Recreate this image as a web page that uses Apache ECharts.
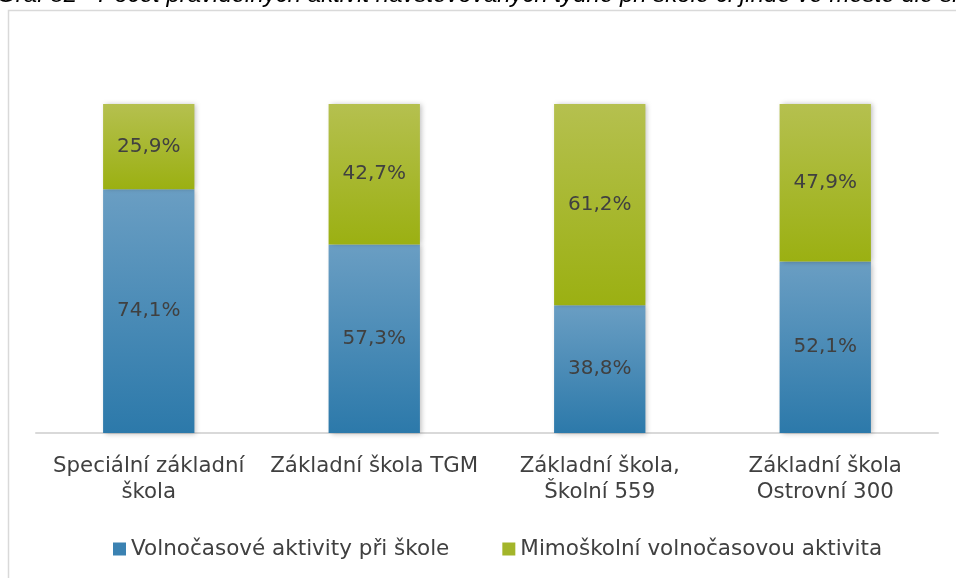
<!DOCTYPE html>
<html>
<head>
<meta charset="utf-8">
<script src="https://cdn.jsdelivr.net/npm/echarts@6/dist/echarts.min.js"></script>
<style>html,body{margin:0;padding:0;background:#fff}#c{width:956px;height:578px}</style>
</head>
<body>
<div id="c"></div>
<script>
var titleText = 'Graf 82 - Počet pravidelných aktivit navštěvovaných týdně při škole či jinde ve městě dle školy';
var categories = ['Speciální základní\nškola', 'Základní škola TGM', 'Základní škola,\nŠkolní 559', 'Základní škola\nOstrovní 300'];
var seriesNames = ['Volnočasové aktivity při škole', 'Mimoškolní volnočasovou aktivita'];
var atSchool = [74.1, 57.3, 38.8, 52.1];
var outside = [25.9, 42.7, 61.2, 47.9];

var FONT = '"DejaVu Sans", sans-serif';
function grad(top, bottom) {
  return new echarts.graphic.LinearGradient(0, 0, 0, 1, [{offset: 0, color: top}, {offset: 1, color: bottom}]);
}
function fmt(p) { return p.value.toFixed(1).replace('.', ',') + '%'; }
var labelCfg = {show: true, position: 'inside', formatter: fmt, color: '#404040', fontSize: 20, fontFamily: FONT};
var chart = echarts.init(document.getElementById('c'), null, {renderer: 'canvas'});
chart.setOption({
  animation: false,
  backgroundColor: '#ffffff',
  graphic: [
    {type: 'rect', shape: {x: 8.5, y: 10.5, width: 1200, height: 1000}, style: {fill: 'none', stroke: '#d9d9d9', lineWidth: 1.5}, silent: true, z: -1},
    {type: 'text', x: -3, y: -17, style: {text: titleText, font: 'italic 24px "Liberation Sans", Arial, sans-serif', fill: '#000000'}, silent: true}
  ],
  grid: {left: 36, right: 18, top: 104, bottom: 145, containLabel: false},
  legend: {
    bottom: 13, left: 108, itemWidth: 13, itemHeight: 13, itemGap: 53,
    icon: 'rect',
    textStyle: {color: '#404040', fontSize: 21.5, fontFamily: FONT},
    data: seriesNames
  },
  xAxis: {
    type: 'category', data: categories,
    axisLine: {lineStyle: {color: '#d9d9d9', width: 2}},
    axisTick: {show: false},
    axisLabel: {color: '#404040', fontSize: 21.3, fontFamily: FONT, margin: 20, lineHeight: 26, interval: 0}
  },
  yAxis: {type: 'value', min: 0, max: 100, show: false, splitLine: {show: false}},
  series: [
    {
      name: seriesNames[0], type: 'bar', stack: 's', data: atSchool, barWidth: '40.5%',
      itemStyle: {color: grad('#6a9ec3', '#2c79aa'), shadowBlur: 5, shadowColor: 'rgba(0,0,0,0.25)', shadowOffsetX: 2, shadowOffsetY: 1},
      label: labelCfg
    },
    {
      name: seriesNames[1], type: 'bar', stack: 's', data: outside, barWidth: '40.5%',
      itemStyle: {color: grad('#b5c04f', '#9bb012'), shadowBlur: 5, shadowColor: 'rgba(0,0,0,0.25)', shadowOffsetX: 2, shadowOffsetY: 0},
      label: labelCfg
    }
  ]
});
chart.setOption({legend: {data: [
  {name: seriesNames[0], itemStyle: {color: '#3b82b2'}},
  {name: seriesNames[1], itemStyle: {color: '#a3b52a'}}
]}});
</script>
</body>
</html>
